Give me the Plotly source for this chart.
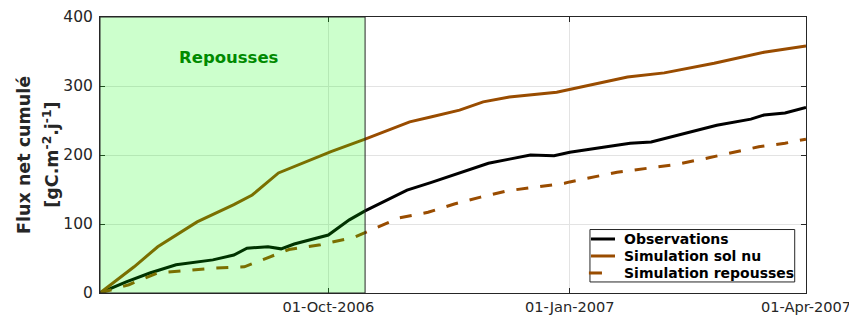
import plotly.graph_objects as go

# ---- data ----
obs_dates = ["2006-07-06", "2006-07-16", "2006-07-25", "2006-08-04", "2006-08-18", "2006-08-26",
             "2006-08-31", "2006-09-08", "2006-09-13", "2006-09-18", "2006-10-01", "2006-10-09",
             "2006-10-15", "2006-10-31", "2006-11-09", "2006-11-18", "2006-12-01", "2006-12-09",
             "2006-12-17", "2006-12-26", "2007-01-01", "2007-01-15", "2007-01-24", "2007-02-01",
             "2007-02-16", "2007-02-26", "2007-03-11", "2007-03-16", "2007-03-24", "2007-04-01"]
obs_values = [0, 16, 29, 41, 48, 55, 65, 67, 64, 71, 84, 106, 119, 149, 160, 171, 188, 194,
              200, 199, 204, 212, 217, 219, 233, 243, 252, 258, 261, 269]

solnu_dates = ["2006-07-06", "2006-07-19", "2006-07-28", "2006-08-12", "2006-08-26", "2006-09-02",
               "2006-09-12", "2006-09-20", "2006-10-02", "2006-10-15", "2006-11-01", "2006-11-09",
               "2006-11-20", "2006-11-29", "2006-12-09", "2006-12-27", "2007-01-01", "2007-01-23",
               "2007-02-06", "2007-02-25", "2007-03-16", "2007-04-01"]
solnu_values = [0, 38, 67, 103, 128, 142, 174, 186, 205, 223, 248, 255, 265, 277, 284, 291,
                295, 313, 319, 333, 349, 358]

rep_dates = ["2006-07-06", "2006-07-17", "2006-07-28", "2006-08-08", "2006-08-18", "2006-08-30",
             "2006-09-06", "2006-09-16", "2006-09-28", "2006-10-11", "2006-10-17", "2006-10-28",
             "2006-11-08", "2006-11-18", "2006-11-28", "2006-12-08", "2006-12-30", "2007-01-01",
             "2007-01-19", "2007-01-31", "2007-02-10", "2007-02-23", "2007-03-03", "2007-03-14",
             "2007-03-24", "2007-04-01"]
rep_values = [0, 12, 29, 33, 36, 38, 48, 63, 70, 81, 91, 109, 117, 129, 139, 148, 159, 161,
              175, 181, 186, 196, 203, 212, 217, 223]

series_names = ["Observations", "Simulation sol nu", "Simulation repousses"]

x_start = "2006-07-06"
x_end = "2007-04-01"
regrowth_end = "2006-10-15"
tick_dates = ["2006-10-01", "2007-01-01", "2007-04-01"]
tick_labels = ["01-Oct-2006", "01-Jan-2007", "01-Apr-2007"]
y_ticks = [0, 100, 200, 300, 400]

ORANGE = "#994c00"
AX = "#262626"
FONT = "DejaVu Sans"
colors = ["black", ORANGE, ORANGE]
dashes = ["solid", "solid", "12px,12px"]

fig = go.Figure()
for xs, ys, nm, c, d in zip([obs_dates, solnu_dates, rep_dates],
                            [obs_values, solnu_values, rep_values],
                            series_names, colors, dashes):
    fig.add_trace(go.Scatter(x=xs, y=ys, mode="lines", name=nm,
                             line=dict(color=c, width=3, dash=d), showlegend=False))

fig.add_shape(type="rect", xref="x", yref="y", x0=x_start, x1=regrowth_end, y0=0, y1=400,
              fillcolor="rgba(0,255,0,0.2)", line=dict(color=AX, width=1), layer="above")

fig.add_annotation(x="2006-08-24", y=342, xref="x", yref="y", text="<b>Repousses</b>",
                   showarrow=False, font=dict(family=FONT, size=16.5, color="#008a00"))

# y-axis title (two lines)
fig.add_annotation(x=-0.1078, y=0.5, xref="paper", yref="paper", textangle=-90,
                   text="<b>Flux net cumulé</b>", showarrow=False,
                   xanchor="center", yanchor="middle",
                   font=dict(family=FONT, size=17.5, color=AX))
fig.add_annotation(x=-0.0698, y=0.5, xref="paper", yref="paper", textangle=-90,
                   text="<b>[gC.m<sup>-2</sup>.j<sup>-1</sup>]</b>", showarrow=False,
                   xanchor="center", yanchor="middle",
                   font=dict(family=FONT, size=17.5, color=AX))

# custom legend box (paper coordinates of the plot area)
fig.add_shape(type="rect", xref="paper", yref="paper", x0=0.694, x1=0.984, y0=0.040, y1=0.230,
              fillcolor="white", line=dict(color=AX, width=1), layer="above")
leg_rows = [0.1957, 0.1341, 0.0725]
for nm, c, yy, i in zip(series_names, colors, leg_rows, range(3)):
    x1 = 0.7295 if i < 2 else 0.7110
    x0 = 0.6955 if i < 2 else 0.6925
    fig.add_shape(type="line", xref="paper", yref="paper", x0=x0, x1=x1, y0=yy, y1=yy,
                  line=dict(color=c, width=3), layer="above")
    fig.add_annotation(x=0.7395, y=yy, xref="paper", yref="paper", text="<b>%s</b>" % nm,
                       showarrow=False, xanchor="left", yanchor="middle",
                       font=dict(family=FONT, size=14, color="black"))

axis_common = dict(showline=True, linecolor=AX, linewidth=1, mirror="allticks",
                   ticks="inside", ticklen=5, tickcolor=AX, showgrid=True,
                   gridcolor="#e3e3e3", gridwidth=1, zeroline=False, automargin=False,
                   ticklabeloverflow="allow")

fig.update_xaxes(type="date", range=[x_start, x_end], tickmode="array",
                 tickvals=tick_dates, ticktext=tick_labels,
                 tickfont=dict(family=FONT, size=14.6, color=AX), **axis_common)
fig.update_yaxes(range=[0, 400], tickmode="array", tickvals=y_ticks, ticklabelstandoff=3,
                 tickfont=dict(family=FONT, size=15.5, color=AX), **axis_common)

# page body has an 8px margin: size the figure so the plot area lands at 100..806 x 17..293
fig.update_layout(
    width=849, height=313,
    margin=dict(l=92, r=51, t=9, b=28),
    plot_bgcolor="white", paper_bgcolor="white",
    font=dict(family=FONT, color=AX),
    showlegend=False,
)

fig.write_html("out.html")
